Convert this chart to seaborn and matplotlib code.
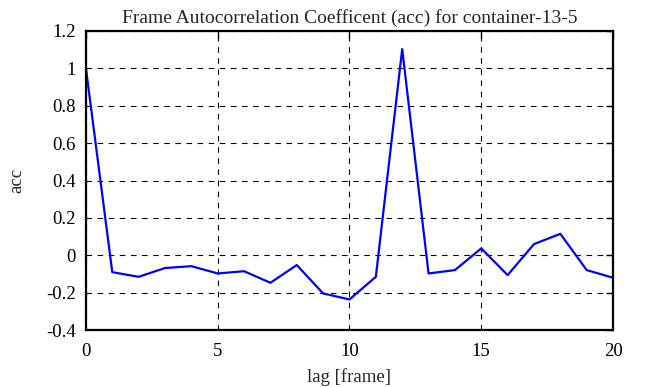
import numpy as np
import pandas as pd
import matplotlib
matplotlib.use("Agg")
import matplotlib.pyplot as plt
import seaborn as sns

# valores
lags = list(range(21))
acc = [1.0, -0.09, -0.115, -0.068, -0.058, -0.097, -0.085, -0.147, -0.052, -0.204,
       -0.236, -0.115, 1.103, -0.097, -0.079, 0.037, -0.106, 0.06, 0.115, -0.079, -0.12]
x_ticks = [0, 5, 10, 15, 20]
y_ticks = [-0.4, -0.2, 0, 0.2, 0.4, 0.6, 0.8, 1, 1.2]
y_tick_labels = ["-0.4", "-0.2", "0", "0.2", "0.4", "0.6", "0.8", "1", "1.2"]

df = pd.DataFrame({"lag": lags, "acc": acc})

sns.set_style("white")
plt.rcParams["font.family"] = ["Liberation Serif", "DejaVu Serif"]
plt.rcParams["font.size"] = 13.5

fig = plt.figure(figsize=(6.46, 3.87), dpi=100)
ax = fig.add_axes([0.133, 0.147, 0.816, 0.773])

sns.lineplot(data=df, x="lag", y="acc", color="#0000ff", linewidth=1.6, ax=ax)

ax.set_xlim(0, 20)
ax.set_ylim(-0.4, 1.2)
ax.set_xticks(x_ticks)
ax.set_yticks(y_ticks)
ax.set_yticklabels(y_tick_labels)
ax.grid(True, color="black", linestyle=(0, (5, 5)), linewidth=0.8)
ax.tick_params(direction="in", length=5, width=1, top=True, right=True,
               labelsize=13.5, colors="black")
ax.tick_params(axis="x", pad=9)
ax.tick_params(axis="y", pad=7.5)
for s in ax.spines.values():
    s.set_color("black")
    s.set_linewidth(1.6)

ax.set_title("Frame Autocorrelation Coefficent (acc) for container-13-5", fontsize=14, pad=6)
ax.set_xlabel("lag [frame]", fontsize=13.5, labelpad=6)
ax.set_ylabel("acc", fontsize=13.5, labelpad=15)

fig.savefig("out.png", dpi=100)
